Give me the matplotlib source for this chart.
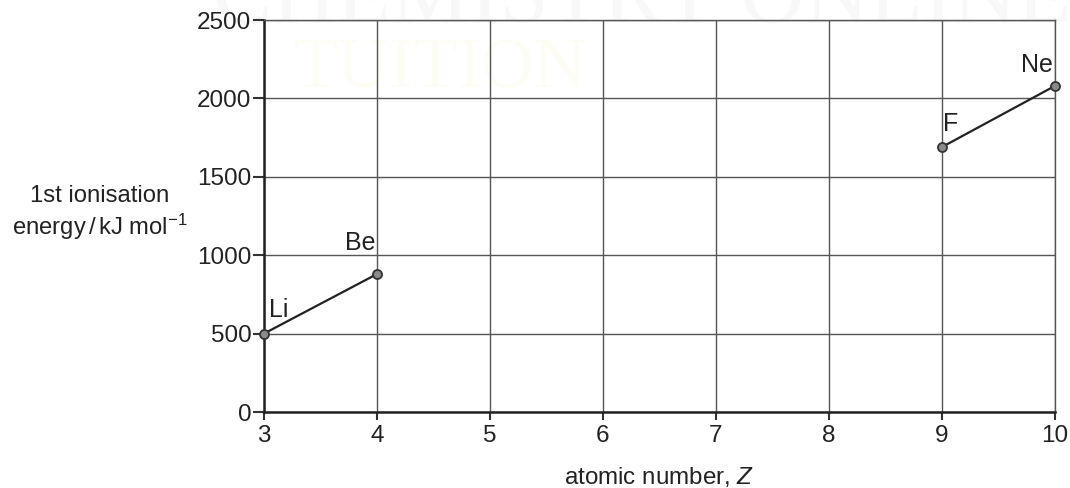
import numpy as np
from matplotlib import pyplot as plt

plt.rcParams['font.family'] = ['Liberation Sans', 'DejaVu Sans']
plt.rcParams['mathtext.fontset'] = 'custom'
plt.rcParams['mathtext.rm'] = 'Liberation Sans'
plt.rcParams['mathtext.it'] = 'Liberation Sans:italic'

# data
z_left = [3, 4]
ie_left = [500, 880]
z_right = [9, 10]
ie_right = [1690, 2080]
names = ['Li', 'Be', 'F', 'Ne']
# label offsets from the points (pixels)
offs = [(15, 24), (-17, 31), (9, 23), (-18, 21)]

fig = plt.figure(figsize=(10.7, 4.88), dpi=100)

# faint watermark
fig.text(0.6, 1.0, 'CHEMISTRY ONLINE', family='Liberation Serif', fontsize=64,
         color='#f8f8f8', ha='center', va='center', zorder=0)
fig.text(0.411, 0.857, 'TUITION', family='Liberation Serif', fontsize=52,
         color='#fefdf5', ha='center', va='center', zorder=0)

ax = fig.add_axes([0.2467, 0.1557, 0.7393, 0.8033])
ax.set_zorder(1)
ax.patch.set_alpha(0)

ax.set_xlim(3, 10)
ax.set_ylim(0, 2500)
ax.set_xticks(range(3, 11))
ax.set_yticks(range(0, 2501, 500))
ax.grid(True, color='#555555', lw=1.0)
ax.set_axisbelow(True)

for s in ['top', 'right']:
    ax.spines[s].set_color('#555555')
    ax.spines[s].set_linewidth(1.0)
for s in ['left', 'bottom']:
    ax.spines[s].set_color('#222222')
    ax.spines[s].set_linewidth(1.8)

ax.tick_params(axis='y', length=8, width=1.5, color='#333333', labelsize=17.5,
               labelcolor='#222222', pad=1)
ax.tick_params(axis='x', length=6, width=1.5, color='#333333', labelsize=17.5,
               labelcolor='#222222', pad=3)

for zs, ies in [(z_left, ie_left), (z_right, ie_right)]:
    ax.plot(zs, ies, color='#222222', lw=1.6, marker='o', ms=6.5,
            mfc='#8a8a8a', mec='#333333', mew=1.3, clip_on=False, zorder=3)

pts = list(zip(z_left + z_right, ie_left + ie_right))
for (x, y), n, (dx, dy) in zip(pts, names, offs):
    ax.annotate(n, (x, y), xytext=(dx * 0.72, dy * 0.72), textcoords='offset points',
                ha='center', va='center', fontsize=18, color='#222222')

ax.set_xlabel('atomic number, $Z$', fontsize=17.4, color='#222222', labelpad=13)
fig.text(0.0935, 0.563, '1st ionisation\nenergy$\\,$/$\\,$kJ mol$^{-1}$', ha='center',
         va='center', fontsize=17.2, color='#222222', linespacing=1.2)

plt.savefig('out.png', dpi=100)
